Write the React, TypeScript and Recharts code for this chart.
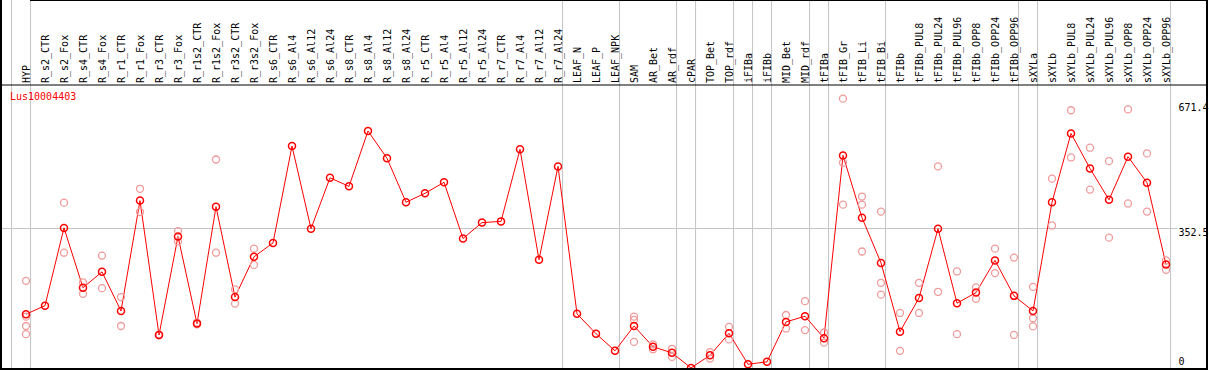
import React from 'react';
import { ComposedChart, Line, Scatter, XAxis, YAxis, ReferenceLine } from 'recharts';

const geneName = 'Lus10004403';

const categories = [
  'HYP', 'R_s2_CTR', 'R_s2_Fox', 'R_s4_CTR', 'R_s4_Fox', 'R_r1_CTR', 'R_r1_Fox', 'R_r3_CTR', 'R_r3_Fox',
  'R_r1s2_CTR', 'R_r1s2_Fox', 'R_r3s2_CTR', 'R_r3s2_Fox', 'R_s6_CTR', 'R_s6_Al4', 'R_s6_Al12', 'R_s6_Al24',
  'R_s8_CTR', 'R_s8_Al4', 'R_s8_Al12', 'R_s8_Al24', 'R_r5_CTR', 'R_r5_Al4', 'R_r5_Al12', 'R_r5_Al24',
  'R_r7_CTR', 'R_r7_Al4', 'R_r7_Al12', 'R_r7_Al24', 'LEAF_N', 'LEAF_P', 'LEAF_NPK', 'SAM', 'AR_Bet', 'AR_rdf',
  'cPAR', 'TOP_Bet', 'TOP_rdf', 'iFIBa', 'iFIBb', 'MID_Bet', 'MID_rdf', 'tFIBa', 'tFIB_Gr', 'tFIB_Li', 'tFIB_Bi',
  'tFIBb', 'tFIBb_PUL8', 'tFIBb_PUL24', 'tFIBb_PUL96', 'tFIBb_OPP8', 'tFIBb_OPP24', 'tFIBb_OPP96', 'sXYLa',
  'sXYLb', 'sXYLb_PUL8', 'sXYLb_PUL24', 'sXYLb_PUL96', 'sXYLb_OPP8', 'sXYLb_OPP24', 'sXYLb_OPP96',
];

const means = [
  142, 163, 354, 207, 246, 150, 421, 91, 333, 119, 406, 184, 283, 317, 555, 352, 477, 456, 592, 525, 417,
  439, 466, 328, 367, 370, 547, 276, 505, 143, 94, 52, 113, 62, 47, 10, 41, 95, 19, 25, 123, 137, 83, 532,
  379, 268, 99, 182, 352, 169, 195, 274, 187, 150, 417, 586, 500, 423, 529, 465, 264,
];

const replicates: number[][] = [
  [224, 136, 113, 93], [], [416, 293], [220, 192], [286, 206], [184, 113], [450, 393], [90, 92], [346, 321],
  [117, 121], [522, 293], [203, 168], [303, 263], [], [], [], [], [], [], [], [], [], [], [], [], [], [], [], [],
  [], [], [], [136, 128, 74], [68, 56], [57, 37], [], [49, 33], [111, 80], [], [], [140, 107], [174, 103],
  [97, 72], [671.4, 514, 411], [431, 411, 296], [394, 219, 190], [145, 52], [219, 145], [505, 197], [247, 93],
  [208, 180], [303, 243], [281, 91], [209, 132, 112], [475, 360], [643, 527], [551, 448], [518, 330],
  [645, 414], [537, 394], [274, 251],
];

const groupEnds = [-1, 0, 28, 31, 34, 35, 37, 38, 39, 41, 42, 45, 52, 53, 60];
const yTicks = [0, 352.5, 671.4];
const scaleMax = 705;

const W = 1209;
const H = 372;
const MARGIN = { top: 0, right: 2, bottom: 0, left: 2 };
const STEP = 19;
const FIRST_X = 26;
const HEADER = 85;
const plotW = W - MARGIN.left - MARGIN.right;
const xMin = -(FIRST_X - MARGIN.left) / STEP;
const xMax = xMin + plotW / STEP;
const yTop = (scaleMax * H) / (H - HEADER);

const lineData = categories.map((c, i) => ({ x: i, y: means[i], name: c }));
const repData = replicates.flatMap((vals, i) => vals.map((v) => ({ x: i, y: v })));

const FONT = '"DejaVu Sans Mono", monospace';

const renderCategoryTick = (props: any) => {
  const { x, payload } = props;
  const label = categories[Math.round(payload.value)];
  if (label === undefined) return <g />;
  return (
    <text
      transform={`translate(${x + 3.5}, 83) rotate(-90)`}
      textAnchor="start"
      fontFamily={FONT}
      fontSize={10}
      fill="#000"
    >
      {label}
    </text>
  );
};

const tickDy: Record<string, number> = { '0': -7, '352.5': 7.4, '671.4': 12 };

const renderValueTick = (props: any) => {
  const { y, payload } = props;
  const dy = tickDy[String(payload.value)] ?? 4;
  const left = W - MARGIN.right - 28.5;
  return (
    <g>
      <rect x={left - 1} y={y + dy - 8} width={30} height={9} fill="#fff" />
      <text x={left} y={y + dy} textAnchor="start" fontFamily={FONT} fontSize={10} fill="#000">
        {String(payload.value)}
      </text>
    </g>
  );
};

const MeanDot = (props: any) => {
  const { cx, cy } = props;
  if (cx == null || cy == null) return null;
  return <circle cx={cx} cy={cy} r={3.5} fill="none" stroke="#ff0000" strokeWidth={1.5} />;
};

const RepDot = (props: any) => {
  const { cx, cy } = props;
  if (cx == null || cy == null) return null;
  return <circle cx={cx} cy={cy} r={3.5} fill="none" stroke="#f09a9a" strokeWidth={1.3} />;
};

export default function App() {
  return (
    <div style={{ position: 'absolute', left: 0, top: 0, width: 1209, height: 370, overflow: 'hidden', background: '#fff' }}>
      <ComposedChart width={W} height={H} margin={MARGIN}>
        <XAxis
          type="number"
          dataKey="x"
          orientation="top"
          height={1}
          mirror
          domain={[xMin, xMax]}
          ticks={categories.map((_, i) => i)}
          interval={0}
          axisLine={false}
          tickLine={false}
          tick={renderCategoryTick}
          allowDataOverflow
        />
        <YAxis
          type="number"
          dataKey="y"
          orientation="right"
          width={1}
          mirror
          domain={[0, yTop]}
          ticks={yTicks}
          interval={0}
          axisLine={false}
          tickLine={false}
          tick={renderValueTick}
          allowDataOverflow
        />
        {groupEnds.map((g) => (
          <ReferenceLine key={`g${g}`} x={g + 0.24} stroke="#c4c4c4" strokeWidth={1} ifOverflow="visible" />
        ))}
        <ReferenceLine y={scaleMax / 2} stroke="#c4c4c4" strokeWidth={1} />
        <ReferenceLine y={scaleMax} stroke="#000" strokeWidth={1} />
        <Scatter data={repData} dataKey="y" shape={<RepDot />} isAnimationActive={false} />
        <Line
          data={lineData}
          dataKey="y"
          stroke="#ff0000"
          strokeWidth={1}
          dot={<MeanDot />}
          activeDot={false}
          isAnimationActive={false}
        />
      </ComposedChart>
      <div style={{ position: 'absolute', left: 10, top: 92, fontFamily: FONT, fontSize: 10, lineHeight: '10px', color: '#ff0000' }}>
        {geneName}
      </div>
      <div style={{ position: 'absolute', left: 0, top: 0, width: 2, height: 370, background: '#000' }} />
      <div style={{ position: 'absolute', left: 1206, top: 0, width: 2, height: 370, background: '#000' }} />
      <div style={{ position: 'absolute', left: 0, top: 368, width: 1208, height: 2, background: '#000' }} />
      <div style={{ position: 'absolute', left: 30, top: 0, width: 1178, height: 1, background: '#000' }} />
    </div>
  );
}
